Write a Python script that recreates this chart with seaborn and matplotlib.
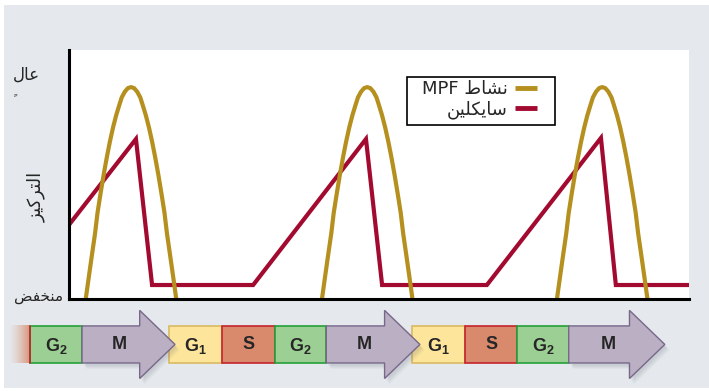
import matplotlib
matplotlib.use("Agg")
import numpy as np
import pandas as pd
import matplotlib.pyplot as plt
import seaborn as sns
from matplotlib.patches import Rectangle, Polygon
from matplotlib.lines import Line2D

# ---- concentration curves (time in arbitrary units, relative level) ----
cyclin_t = [0.0, 10.8, 13.4, 29.7, 47.9, 50.5, 67.4, 85.8, 88.2, 100.0]
cyclin_v = [0.35, 0.755, 0.066, 0.066, 0.755, 0.066, 0.066, 0.76, 0.066, 0.066]

mpf_t = [2.7, 3.2, 3.7, 4.2, 4.6, 5.1, 5.6, 6.1, 6.6, 7.1, 7.6, 8.1, 8.5, 9.0, 9.5, 10.0,
         10.5, 11.0, 11.5, 11.9, 12.4, 12.9, 13.4, 13.9, 14.4, 14.9, 15.4, 15.8, 16.3, 16.8, 17.3,
         40.8, 41.3, 41.8, 42.3, 42.7, 43.2, 43.7, 44.2, 44.7, 45.2, 45.7, 46.2, 46.6, 47.1, 47.6, 48.1,
         48.6, 49.1, 49.6, 50.0, 50.5, 51.0, 51.5, 52.0, 52.5, 53.0, 53.5, 53.9, 54.4, 54.9, 55.4,
         78.7, 79.2, 79.7, 80.2, 80.6, 81.1, 81.6, 82.1, 82.6, 83.1, 83.6, 84.1, 84.5, 85.0, 85.5, 86.0,
         86.5, 87.0, 87.5, 87.9, 88.4, 88.9, 89.4, 89.9, 90.4, 90.9, 91.4, 91.8, 92.3, 92.8, 93.3]
mpf_v = [0.0, 0.105, 0.208, 0.309, 0.407, 0.5, 0.588, 0.669, 0.743, 0.809, 0.866, 0.914,
         0.951, 0.978, 0.995, 1.0, 0.995, 0.978, 0.951, 0.914, 0.866, 0.809, 0.743, 0.669,
         0.588, 0.5, 0.407, 0.309, 0.208, 0.105, 0.0] * 3
mpf_burst = [1] * 31 + [2] * 31 + [3] * 31

# ---- cell-cycle phases along the same time axis ----
phase_names = ["S", "G2", "M", "G1", "S", "G2", "M", "G1", "S", "G2", "M"]
phase_start = [-9.8, -6.3, 2.1, 16.1, 24.7, 33.2, 41.5, 55.3, 63.9, 72.3, 80.6]
phase_end = [-6.3, 2.1, 17.1, 24.7, 33.2, 41.5, 56.6, 63.9, 72.3, 80.6, 96.1]
phase_labels = ["", r"$\mathbf{G_2}$", "M", r"$\mathbf{G_1}$", "S", r"$\mathbf{G_2}$", "M",
                r"$\mathbf{G_1}$", "S", r"$\mathbf{G_2}$", "M"]

# Arabic text in shaped presentation forms, visual (left-to-right) order
label_high = "\ufedd\ufe8e\ufecb"                            # عال
label_high_mark = "\ufe74"                                   # tanwin kasr under the lam
label_conc = "\ufeb0\ufef4\ufedb\ufeae\ufe98\ufedf\ufe8d"    # التركيز
label_low = "\ufebe\ufed4\ufea8\ufee8\ufee3"                 # منخفض
label_mpf = "MPF \ufec1\ufe8e\ufeb8\ufee7"                   # نشاط MPF
label_cyclin = "\ufee6\ufef4\ufee0\ufedc\ufef3\ufe8e\ufeb3"  # سايكلين

GOLD = "#b5901e"
CRIMSON = "#a30a30"
PANEL = "#e5e9ed"

sns.set_theme(style="white")
plt.rcParams["font.family"] = ["DejaVu Sans"]
plt.rcParams["mathtext.fontset"] = "custom"
plt.rcParams["mathtext.bf"] = "Liberation Sans:bold"
plt.rcParams["mathtext.rm"] = "Liberation Sans"

W, H = 709, 391
fig = plt.figure(figsize=(W / 100, H / 100), dpi=100, facecolor="white")
fig.patches.append(Rectangle((4 / W, 3 / H), 1 - 4 / W, (H - 8) / H,
                             transform=fig.transFigure, facecolor=PANEL,
                             edgecolor="none", zorder=-10))

# ---- main concentration panel ----
ax = fig.add_axes([69 / W, (H - 299) / H, 620 / W, 249 / H])
ax.set_facecolor("white")

mpf_df = pd.DataFrame({"t": mpf_t, "v": mpf_v, "burst": mpf_burst})
cyc_df = pd.DataFrame({"t": cyclin_t, "v": cyclin_v})

sns.lineplot(data=cyc_df, x="t", y="v", ax=ax, color=CRIMSON, lw=3,
             estimator=None, sort=False, solid_joinstyle="miter")
sns.lineplot(data=mpf_df, x="t", y="v", units="burst", estimator=None, ax=ax,
             color=GOLD, lw=3)

ax.set_xlim(0, 100)
ax.set_ylim(0, 1.175)
ax.set_xticks([])
ax.set_yticks([])
ax.set_xlabel("")
ax.set_ylabel("")
for side in ("top", "right"):
    ax.spines[side].set_visible(False)
for side in ("left", "bottom"):
    ax.spines[side].set_color("black")
    ax.spines[side].set_linewidth(2.2)
    ax.spines[side].set_zorder(5)

# legend: right-to-left entries inside a plain black box
ax.add_patch(Rectangle(((407 - 69) / 620, (299 - 125) / 249), 148 / 620, 48 / 249,
                       transform=ax.transAxes, facecolor="white", edgecolor="black",
                       lw=1.2, zorder=6))
handles = [Line2D([], [], color=GOLD, lw=3.5, solid_capstyle="butt"),
           Line2D([], [], color=CRIMSON, lw=3.5, solid_capstyle="butt")]
leg = ax.legend(handles, [label_mpf, label_cyclin], loc="upper right",
                bbox_to_anchor=((537 - 69) / 620, (299 - 80) / 249),
                markerfirst=False, frameon=False, fontsize=13,
                handlelength=1.2, handletextpad=0.4, borderpad=0,
                labelspacing=0.12, borderaxespad=0)
leg.set_zorder(7)

fig.text(26 / W, 1 - 75 / H, label_high, ha="center", va="center", fontsize=12)
fig.text(16 / W, 1 - 92 / H, label_high_mark, ha="center", va="center", fontsize=8)
fig.text(36 / W, 1 - 197 / H, label_conc, ha="center", va="center",
         fontsize=13, rotation=90)
fig.text(63 / W, 1 - 296 / H, label_low, ha="right", va="center", fontsize=11)

# ---- cell-cycle band ----
bx = fig.add_axes([0, 0, 1, 91 / H])
bx.set_xlim((0 - 69) / 6.2, (W - 69) / 6.2)
bx.set_ylim(-0.757, 1.70)
bx.axis("off")

fills = {"G1": ("#fde59c", "#d9b962"), "S": ("#d98a6d", "#c4232d"),
         "G2": ("#9ccf93", "#23a03a"), "M": ("#bbafc3", "#77688a")}
head = 5.7
for i, (name, s, e, lab) in enumerate(zip(phase_names, phase_start, phase_end, phase_labels)):
    fc, ec = fills[name]
    if i == 0:
        # faded tail of the previous S phase
        grad = np.linspace(0, 1, 64)[None, :]
        rgba = np.zeros((1, 64, 4))
        rgba[..., :3] = matplotlib.colors.to_rgb(fc)
        rgba[..., 3] = grad ** 1.5 * 0.9
        bx.imshow(rgba, extent=(s, e, 0, 1), aspect="auto", zorder=2)
        bx.plot([e, e], [0, 1], color=ec, lw=1.2, zorder=3)
        continue
    if name == "M":
        pts = [(s, 0), (e - head, 0), (e - head, -0.42), (e, 0.5),
               (e - head, 1.42), (e - head, 1), (s, 1)]
        for k in range(6):
            shadow = Polygon([(x + 0.25 + 0.1 * k, y - 0.06 - 0.02 * k) for x, y in pts],
                             closed=True, facecolor="#556070", edgecolor="none",
                             alpha=0.035, zorder=3)
            bx.add_patch(shadow)
        bx.add_patch(Polygon(pts, closed=True, facecolor=fc, edgecolor=ec,
                             lw=1.0, zorder=4))
        cx = (s + e - head / 2) / 2
    else:
        bx.add_patch(Rectangle((s, 0), e - s, 1, facecolor=fc, edgecolor=ec,
                               lw=1.2, zorder=2))
        cx = (s + e) / 2
    if name in ("M", "S"):
        bx.text(cx, 0.5, lab, ha="center", va="center", fontsize=13,
                fontweight="bold", family="Liberation Sans", zorder=6)
    else:
        bx.text(cx, 0.47, lab, ha="center", va="center", fontsize=13, zorder=6)

fig.savefig("out.png", dpi=100, facecolor=fig.get_facecolor())
